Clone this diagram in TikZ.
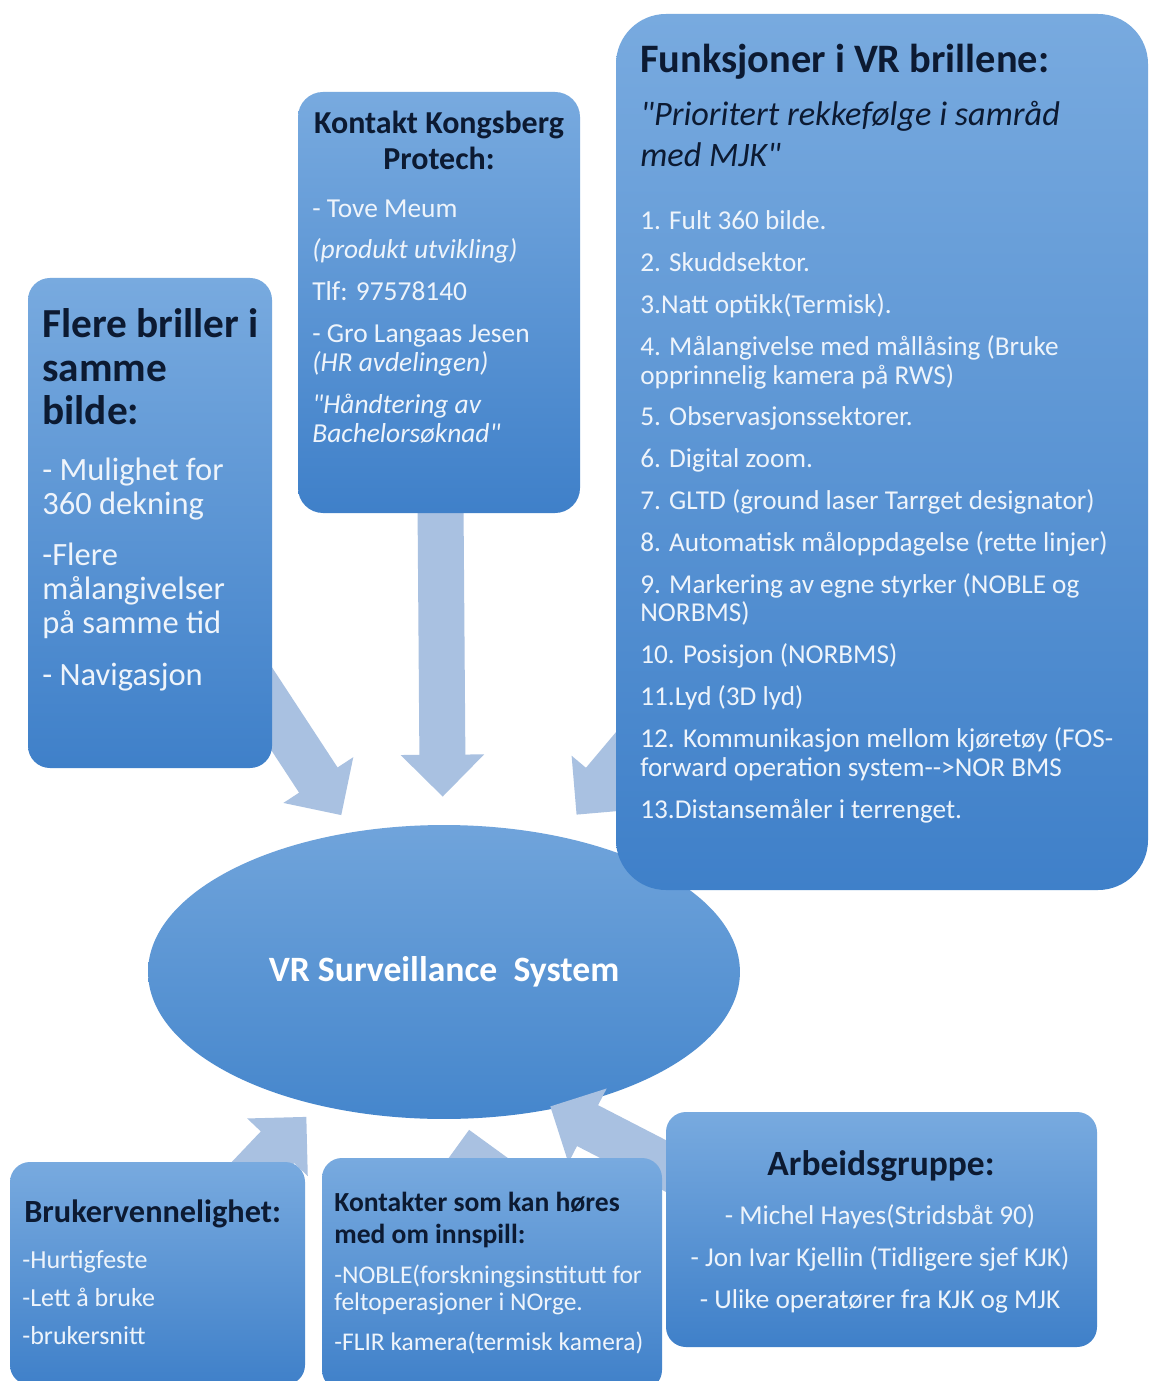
\documentclass[tikz,border=0pt]{standalone}
\usepackage{fontspec}
\setmainfont{Carlito}[Ligatures=TeXOff]
\usepackage{tikz}
\usetikzlibrary{arrows.meta}
\usetikzlibrary{shapes.geometric}
\usetikzlibrary{fit}
\usetikzlibrary{calc}
\definecolor{boxtop}{HTML}{78AADF}
\definecolor{boxbot}{HTML}{3F80C9}
\definecolor{ovaltop}{HTML}{70A4DB}
\definecolor{ovalbot}{HTML}{4586CC}
\definecolor{flowcol}{HTML}{A9C1E1}
\definecolor{headcol}{HTML}{0C1A32}
\definecolor{textcol}{HTML}{EEF4FB}
\pgfdeclarelayer{bg}
\pgfdeclarelayer{flows}
\pgfsetlayers{bg,flows,main}
\tikzset{
 panel/.style={draw=none, inner sep=0pt, top color=boxtop, bottom color=boxbot, rounded corners=0.44cm},
 flow/.style={draw=flowcol, line width=0.92cm, -{Triangle[length=0.84cm,width=1.62cm]}},
 boxhead/.style={anchor=base west, inner sep=0pt, text=headcol, align=left},
 boxbody/.style={anchor=base west, inner sep=0pt, text=textcol, align=left},
}

\begin{document}
\begin{tikzpicture}[x=0.02cm, y=-0.02cm]
\useasboundingbox (0,0) rectangle (1150,1381);
\begin{pgfonlayer}{bg}
\fill[white] (0,0) rectangle (1150,1381);
\node[ellipse, inner sep=0pt, minimum width=11.84cm, minimum height=5.88cm, top color=ovaltop, bottom color=ovalbot,
  text=white, font=\bfseries\fontsize{20.3}{24}\selectfont] (vr) at (444,972) {VR Surveillance\ \ System};
\end{pgfonlayer}

% boxes
\node[panel, fit={(28,278) (272,768)}] (briller) {};
\node[panel, rounded corners=0.5cm, fit={(298,92) (580,513)}] (kontakt) {};
\node[panel, rounded corners=1cm, fit={(616,14) (1148,890)}] (funk) {};
\node[panel, rounded corners=0.4cm, fit={(10,1162) (305,1385)}] (bruker) {};
\node[panel, rounded corners=0.4cm, fit={(322,1158) (662,1390)}] (kontakter) {};
\node[panel, rounded corners=0.4cm, fit={(666,1112) (1097,1347)}] (arbeid) {};

% texts (placed at the baseline of their last line)
\node[boxhead, font=\bfseries\fontsize{23.5}{24.9}\selectfont] (brillerhead) at (42,425) {Flere briller i\\samme\\bilde:};
\node[boxbody, font=\fontsize{18.5}{19.3}\selectfont] (brillertext) at (42,685)
  {- Mulighet for\\360 dekning\\[10pt]-Flere\\målangivelser\\på samme tid\\[10pt]- Navigasjon};

\node[boxhead, anchor=base, align=center, font=\bfseries\fontsize{18.2}{21}\selectfont] (kontakthead) at (439,170) {Kontakt Kongsberg\\Protech:};
\node[boxbody, font=\fontsize{15.6}{16.4}\selectfont] (kontakttext) at (312,442)
  {- Tove Meum\\[7.4pt]\textit{(produkt utvikling)}\\[7.4pt]Tlf: 97578140\\[7.4pt]- Gro Langaas Jesen\\\textit{(HR avdelingen)}\\[7.4pt]\textit{"Håndtering av}\\\textit{Bachelorsøknad"}};

\node[boxhead, font=\bfseries\fontsize{23}{26}\selectfont] (funkhead) at (640,73) {Funksjoner i VR brillene:};
\node[boxhead, font=\itshape\fontsize{19.5}{23.8}\selectfont] (funksub) at (640,167) {"Prioritert rekkefølge i samråd\\med MJK"};
\node[boxbody, font=\fontsize{15.5}{16.4}\selectfont] (funktext) at (640,818)
  {1. Fult 360 bilde.\\[7.4pt]
   2. Skuddsektor.\\[7.4pt]
   3.Natt optikk(Termisk).\\[7.4pt]
   4. Målangivelse med mållåsing (Bruke\\opprinnelig kamera på RWS)\\[7.4pt]
   5. Observasjonssektorer.\\[7.4pt]
   6. Digital zoom.\\[7.4pt]
   7. GLTD (ground laser Tarrget designator)\\[7.4pt]
   8. Automatisk måloppdagelse (rette linjer)\\[7.4pt]
   9. Markering av egne styrker (NOBLE og\\NORBMS)\\[7.4pt]
   10. Posisjon (NORBMS)\\[7.4pt]
   11.Lyd (3D lyd)\\[7.4pt]
   12. Kommunikasjon mellom kjøretøy (FOS-\\forward operation system-->NOR BMS\\[7.4pt]
   13.Distansemåler i terrenget.};

\node[boxhead, font=\bfseries\fontsize{18.4}{22}\selectfont] (brukerhead) at (24,1222) {Brukervennelighet:};
\node[boxbody, font=\fontsize{14.8}{21.5}\selectfont] (brukertext) at (22,1344) {-Hurtigfeste\\-Lett å bruke\\-brukersnitt};

\node[boxhead, font=\bfseries\fontsize{15.7}{18.1}\selectfont] (kontakterhead) at (334,1243) {Kontakter som kan høres\\med om innspill:};
\node[boxbody, font=\fontsize{14.5}{15.3}\selectfont] (kontaktertext) at (334,1350)
  {-NOBLE(forskningsinstitutt for\\feltoperasjoner i NOrge.\\[7.4pt]-FLIR kamera(termisk kamera)};

\node[boxhead, anchor=base, align=center, font=\bfseries\fontsize{20.2}{24}\selectfont] (arbeidhead) at (881,1175) {Arbeidsgruppe:};
\node[boxbody, anchor=base, align=center, font=\fontsize{15.5}{23.8}\selectfont] (arbeidtext) at (880,1308)
  {- Michel Hayes(Stridsbåt 90)\\- Jon Ivar Kjellin (Tidligere sjef KJK)\\- Ulike operatører fra KJK og MJK};

% arrows
\begin{pgfonlayer}{flows}
\draw[flow, shorten >=0.4cm] (briller.center) -- (vr);
\draw[flow, shorten >=0.56cm] (kontakt.center) -- (vr);
\draw[flow, shorten >=0.56cm] (funk.center) -- (vr);
\draw[flow, shorten >=0.32cm] (bruker.center) -- (vr);
\draw[flow, shorten >=0.22cm] (kontakter.center) -- (vr);
\draw[flow, shorten <=-1cm, shorten >=-0.1cm] ($(arbeid.north west)!0.23!(arbeid.south west)$) -- (vr.-51);
\end{pgfonlayer}
\end{tikzpicture}
\end{document}
